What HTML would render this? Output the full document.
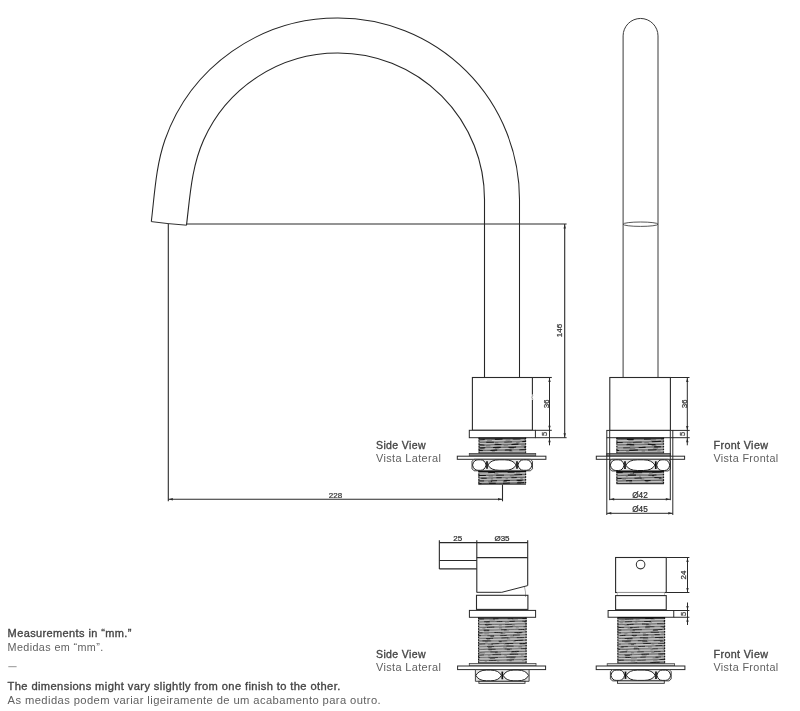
<!DOCTYPE html>
<html><head><meta charset="utf-8"><style>
html,body{margin:0;padding:0;background:#fff;width:800px;height:711px;overflow:hidden}
svg{display:block;font-family:"Liberation Sans",sans-serif;will-change:transform}
</style></head><body>
<svg width="800" height="711" viewBox="0 0 800 711">
<rect width="800" height="711" fill="#fff"/>
<path d="M151.3,221.6 C154.66,193.8 155.8,166.48 164.9,140 A183 183 0 0 1 338,18 A181.5 181.5 0 0 1 519.5,199.5 L519.5,377.5" fill="none" stroke="#262626" stroke-width="1.05"/>
<path d="M186.5,225.2 C190.1,195.41 191.45,167.42 203.6,140 A147 147 0 0 1 338,53 A146.5 146.5 0 0 1 484.5,199.5 L484.5,377.5" fill="none" stroke="#262626" stroke-width="1.1"/>
<path d="M151.3,221.6 L168,223.6 L186.5,225.2" fill="none" stroke="#333" stroke-width="1"/>
<line x1="186.5" y1="224" x2="566.6" y2="224" stroke="#2a2a2a" stroke-width="1.1"/>
<line x1="168.3" y1="224" x2="168.3" y2="501.3" stroke="#2a2a2a" stroke-width="1.1"/>
<line x1="168.3" y1="499.3" x2="502.5" y2="499.3" stroke="#2a2a2a" stroke-width="1.1"/>
<line x1="502.5" y1="484.5" x2="502.5" y2="501.3" stroke="#2a2a2a" stroke-width="1.1"/>
<line x1="564.7" y1="224" x2="564.7" y2="437.7" stroke="#2a2a2a" stroke-width="1.1"/>
<path d="M564.7,224.5 L563.5,228.5 L565.9000000000001,228.5 Z" fill="#2a2a2a"/>
<path d="M564.7,437.2 L563.5,433.2 L565.9000000000001,433.2 Z" fill="#2a2a2a"/>
<path d="M168.8,499.3 L172.8,498.1 L172.8,500.5 Z" fill="#2a2a2a"/>
<path d="M502,499.3 L498,498.1 L498,500.5 Z" fill="#2a2a2a"/>
<text x="335.5" y="498" font-size="8" font-weight="normal" fill="#444" text-anchor="middle" stroke="#2a2a2a" stroke-width="0.22" >228</text>
<text x="0" y="0" font-size="8" font-weight="normal" fill="#444" text-anchor="middle" stroke="#2a2a2a" stroke-width="0.22" transform="translate(562.3,330.6) rotate(-90)">146</text>
<rect x="472.4" y="377.5" width="60.00" height="52.80" stroke="#2a2a2a" stroke-width="1.1" fill="none"/>
<rect x="531.5" y="394.6" width="2" height="5.2" fill="#fff"/>
<path d="M532.9,395 L531.9,397.3 L532.9,399.6" fill="none" stroke="#8a8a8a" stroke-width="0.9"/>
<line x1="532.4" y1="377.5" x2="551.8" y2="377.5" stroke="#2a2a2a" stroke-width="1.1"/>
<line x1="549.5" y1="377.5" x2="549.5" y2="445.3" stroke="#2a2a2a" stroke-width="1.0"/>
<path d="M549.5,378 L548.3,382 L550.7,382 Z" fill="#2a2a2a"/>
<path d="M549.5,429.8 L548.3,425.8 L550.7,425.8 Z" fill="#2a2a2a"/>
<path d="M549.5,438.2 L548.3,442.2 L550.7,442.2 Z" fill="#2a2a2a"/>
<text x="0" y="0" font-size="7.5" font-weight="normal" fill="#444" text-anchor="middle" stroke="#2a2a2a" stroke-width="0.22" transform="translate(548.6,403.8) rotate(-90)">36</text>
<rect x="469.3" y="430.3" width="66.10" height="7.40" stroke="#2a2a2a" stroke-width="1.0" fill="#fff"/>
<line x1="535.4" y1="430.3" x2="551.8" y2="430.3" stroke="#2a2a2a" stroke-width="1.0"/>
<line x1="535.4" y1="437.7" x2="566.6" y2="437.7" stroke="#2a2a2a" stroke-width="1.0"/>
<text x="0" y="0" font-size="7.5" font-weight="normal" fill="#555" text-anchor="middle" stroke="#2a2a2a" stroke-width="0.22" transform="translate(547.3,434) rotate(-90)">5</text>
<rect x="478.7" y="437.7" width="47.30" height="15.80" fill="#959595"/>
<path d="M478.70,440.02 Q478.70,440.02 482.64,439.81 Q486.58,439.59 490.52,439.57 Q494.47,439.54 498.41,439.27 Q502.35,438.99 506.29,439.10 Q510.23,439.21 514.17,439.29 Q518.12,439.37 522.06,439.22 L526.00,439.07" fill="none" stroke="#505050" stroke-width="0.7"/>
<path d="M478.70,440.02 Q478.70,440.02 482.64,439.81 Q486.58,439.59 490.52,439.57 Q494.47,439.54 498.41,439.27 Q502.35,438.99 506.29,439.10 Q510.23,439.21 514.17,439.29 Q518.12,439.37 522.06,439.22 L526.00,439.07" fill="none" stroke="#151515" stroke-width="1.22" stroke-dasharray="7.8 10.1" stroke-dashoffset="1.8"/>
<line x1="478.7" y1="440.75" x2="526" y2="439.85" stroke="#e2e2e2" stroke-width="0.65" stroke-dasharray="13.7 4.8" stroke-dashoffset="5.3"/>
<path d="M478.70,442.37 Q478.70,442.37 482.64,442.31 Q486.58,442.25 490.52,442.37 Q494.47,442.49 498.41,442.41 Q502.35,442.33 506.29,442.28 Q510.23,442.23 514.17,442.17 Q518.12,442.10 522.06,441.75 L526.00,441.40" fill="none" stroke="#505050" stroke-width="0.7"/>
<path d="M478.70,442.37 Q478.70,442.37 482.64,442.31 Q486.58,442.25 490.52,442.37 Q494.47,442.49 498.41,442.41 Q502.35,442.33 506.29,442.28 Q510.23,442.23 514.17,442.17 Q518.12,442.10 522.06,441.75 L526.00,441.40" fill="none" stroke="#151515" stroke-width="1.22" stroke-dasharray="7.6 10.4" stroke-dashoffset="10.4"/>
<line x1="478.7" y1="443.50" x2="526" y2="442.60" stroke="#e2e2e2" stroke-width="0.65" stroke-dasharray="17.7 3.5" stroke-dashoffset="1.4"/>
<path d="M478.70,444.91 Q478.70,444.91 482.64,445.20 Q486.58,445.50 490.52,445.05 Q494.47,444.61 498.41,444.70 Q502.35,444.79 506.29,444.74 Q510.23,444.69 514.17,444.43 Q518.12,444.16 522.06,444.09 L526.00,444.02" fill="none" stroke="#505050" stroke-width="0.7"/>
<path d="M478.70,444.91 Q478.70,444.91 482.64,445.20 Q486.58,445.50 490.52,445.05 Q494.47,444.61 498.41,444.70 Q502.35,444.79 506.29,444.74 Q510.23,444.69 514.17,444.43 Q518.12,444.16 522.06,444.09 L526.00,444.02" fill="none" stroke="#151515" stroke-width="1.22" stroke-dasharray="7.0 10.0" stroke-dashoffset="1.2"/>
<line x1="478.7" y1="446.25" x2="526" y2="445.35" stroke="#e2e2e2" stroke-width="0.65" stroke-dasharray="13.1 4.6" stroke-dashoffset="5.9"/>
<path d="M478.70,448.00 Q478.70,448.00 482.64,447.84 Q486.58,447.69 490.52,447.59 Q494.47,447.50 498.41,447.45 Q502.35,447.40 506.29,447.41 Q510.23,447.43 514.17,447.27 Q518.12,447.12 522.06,447.14 L526.00,447.17" fill="none" stroke="#505050" stroke-width="0.7"/>
<path d="M478.70,448.00 Q478.70,448.00 482.64,447.84 Q486.58,447.69 490.52,447.59 Q494.47,447.50 498.41,447.45 Q502.35,447.40 506.29,447.41 Q510.23,447.43 514.17,447.27 Q518.12,447.12 522.06,447.14 L526.00,447.17" fill="none" stroke="#151515" stroke-width="1.22" stroke-dasharray="7.6 7.8" stroke-dashoffset="1.0"/>
<line x1="478.7" y1="449.00" x2="526" y2="448.10" stroke="#e2e2e2" stroke-width="0.65" stroke-dasharray="10.3 4.4" stroke-dashoffset="8.8"/>
<path d="M478.70,450.36 Q478.70,450.36 482.64,450.63 Q486.58,450.91 490.52,450.50 Q494.47,450.10 498.41,450.23 Q502.35,450.36 506.29,450.19 Q510.23,450.02 514.17,450.03 Q518.12,450.04 522.06,449.91 L526.00,449.78" fill="none" stroke="#505050" stroke-width="0.7"/>
<path d="M478.70,450.36 Q478.70,450.36 482.64,450.63 Q486.58,450.91 490.52,450.50 Q494.47,450.10 498.41,450.23 Q502.35,450.36 506.29,450.19 Q510.23,450.02 514.17,450.03 Q518.12,450.04 522.06,449.91 L526.00,449.78" fill="none" stroke="#151515" stroke-width="1.22" stroke-dasharray="6.8 7.6" stroke-dashoffset="2.7"/>
<line x1="478.7" y1="451.75" x2="526" y2="450.85" stroke="#e2e2e2" stroke-width="0.65" stroke-dasharray="14.5 3.1" stroke-dashoffset="1.4"/>
<line x1="479.09999999999997" y1="437.7" x2="479.09999999999997" y2="453.5" stroke="#1a1a1a" stroke-width="1.2" stroke-dasharray="1.4 1.35"/>
<line x1="525.6" y1="437.7" x2="525.6" y2="453.5" stroke="#1a1a1a" stroke-width="1.2" stroke-dasharray="1.4 1.35"/>
<line x1="478.7" y1="438.2" x2="526" y2="438.2" stroke="#111" stroke-width="1.3"/>
<line x1="478.7" y1="453.1" x2="526" y2="453.1" stroke="#222" stroke-width="1"/>
<rect x="469.3" y="453.5" width="66.40" height="2.70" stroke="#444" stroke-width="0.8" fill="#888"/>
<rect x="457.3" y="456.2" width="88.60" height="3.10" stroke="#2a2a2a" stroke-width="1.0" fill="#fff"/>
<path d="M472,461.3 L474.0,459.3 L530.5,459.3 L532.5,461.3 L532.5,468.8 L530.5,470.8 L474.0,470.8 L472,468.8 Z" fill="#e4e4e4" stroke="#333" stroke-width="0.9"/>
<path d="M472.50,465.05 Q473.86,459.80 477.94,459.80 L480.66,459.80 Q484.74,459.80 486.10,465.05 Q484.74,470.30 480.66,470.30 L477.94,470.30 Q473.86,470.30 472.50,465.05 Z" fill="#fff" stroke="#222" stroke-width="1.0"/>
<path d="M487.90,465.05 Q490.72,459.80 499.18,459.80 L504.82,459.80 Q513.28,459.80 516.10,465.05 Q513.28,470.30 504.82,470.30 L499.18,470.30 Q490.72,470.30 487.90,465.05 Z" fill="#fff" stroke="#222" stroke-width="1.0"/>
<path d="M517.90,465.05 Q519.31,459.80 523.54,459.80 L526.36,459.80 Q530.59,459.80 532.00,465.05 Q530.59,470.30 526.36,470.30 L523.54,470.30 Q519.31,470.30 517.90,465.05 Z" fill="#fff" stroke="#222" stroke-width="1.0"/>
<line x1="487" y1="461.3" x2="487" y2="468.8" stroke="#111" stroke-width="1.7"/>
<line x1="517" y1="461.3" x2="517" y2="468.8" stroke="#111" stroke-width="1.7"/>
<rect x="478.5" y="470.8" width="47.50" height="13.70" fill="#959595"/>
<path d="M478.50,473.24 Q478.50,473.24 482.46,473.15 Q486.42,473.06 490.38,472.69 Q494.33,472.33 498.29,472.33 Q502.25,472.34 506.21,472.43 Q510.17,472.52 514.12,472.34 Q518.08,472.16 522.04,471.90 L526.00,471.63" fill="none" stroke="#505050" stroke-width="0.7"/>
<path d="M478.50,473.24 Q478.50,473.24 482.46,473.15 Q486.42,473.06 490.38,472.69 Q494.33,472.33 498.29,472.33 Q502.25,472.34 506.21,472.43 Q510.17,472.52 514.12,472.34 Q518.08,472.16 522.04,471.90 L526.00,471.63" fill="none" stroke="#151515" stroke-width="1.22" stroke-dasharray="6.9 12.7" stroke-dashoffset="10.0"/>
<line x1="478.5" y1="473.85" x2="526" y2="472.95" stroke="#e2e2e2" stroke-width="0.65" stroke-dasharray="17.6 4.3" stroke-dashoffset="2.0"/>
<path d="M478.50,475.51 Q478.50,475.51 482.46,475.51 Q486.42,475.51 490.38,475.39 Q494.33,475.27 498.29,475.35 Q502.25,475.42 506.21,475.38 Q510.17,475.34 514.12,475.11 Q518.08,474.87 522.04,474.71 L526.00,474.55" fill="none" stroke="#505050" stroke-width="0.7"/>
<path d="M478.50,475.51 Q478.50,475.51 482.46,475.51 Q486.42,475.51 490.38,475.39 Q494.33,475.27 498.29,475.35 Q502.25,475.42 506.21,475.38 Q510.17,475.34 514.12,475.11 Q518.08,474.87 522.04,474.71 L526.00,474.55" fill="none" stroke="#151515" stroke-width="1.22" stroke-dasharray="7.8 10.3" stroke-dashoffset="0.4"/>
<line x1="478.5" y1="476.60" x2="526" y2="475.70" stroke="#e2e2e2" stroke-width="0.65" stroke-dasharray="16.9 4.3" stroke-dashoffset="6.8"/>
<path d="M478.50,478.12 Q478.50,478.12 482.46,478.33 Q486.42,478.54 490.38,478.19 Q494.33,477.84 498.29,477.87 Q502.25,477.90 506.21,478.02 Q510.17,478.14 514.12,477.80 Q518.08,477.45 522.04,477.62 L526.00,477.79" fill="none" stroke="#505050" stroke-width="0.7"/>
<path d="M478.50,478.12 Q478.50,478.12 482.46,478.33 Q486.42,478.54 490.38,478.19 Q494.33,477.84 498.29,477.87 Q502.25,477.90 506.21,478.02 Q510.17,478.14 514.12,477.80 Q518.08,477.45 522.04,477.62 L526.00,477.79" fill="none" stroke="#151515" stroke-width="1.22" stroke-dasharray="5.3 9.7" stroke-dashoffset="12.1"/>
<line x1="478.5" y1="479.35" x2="526" y2="478.45" stroke="#e2e2e2" stroke-width="0.65" stroke-dasharray="12.5 2.3" stroke-dashoffset="0.2"/>
<path d="M478.50,480.99 Q478.50,480.99 482.46,481.16 Q486.42,481.34 490.38,481.07 Q494.33,480.80 498.29,480.86 Q502.25,480.91 506.21,480.71 Q510.17,480.51 514.12,480.49 Q518.08,480.48 522.04,480.25 L526.00,480.02" fill="none" stroke="#505050" stroke-width="0.7"/>
<path d="M478.50,480.99 Q478.50,480.99 482.46,481.16 Q486.42,481.34 490.38,481.07 Q494.33,480.80 498.29,480.86 Q502.25,480.91 506.21,480.71 Q510.17,480.51 514.12,480.49 Q518.08,480.48 522.04,480.25 L526.00,480.02" fill="none" stroke="#151515" stroke-width="1.22" stroke-dasharray="6.2 6.7" stroke-dashoffset="0.6"/>
<line x1="478.5" y1="482.10" x2="526" y2="481.20" stroke="#e2e2e2" stroke-width="0.65" stroke-dasharray="10.8 4.0" stroke-dashoffset="1.2"/>
<path d="M478.50,483.78 Q478.50,483.78 482.46,483.60 Q486.42,483.42 490.38,483.40 Q494.33,483.38 498.29,483.47 Q502.25,483.56 506.21,483.38 Q510.17,483.19 514.12,483.08 Q518.08,482.96 522.04,482.81 L526.00,482.65" fill="none" stroke="#505050" stroke-width="0.7"/>
<path d="M478.50,483.78 Q478.50,483.78 482.46,483.60 Q486.42,483.42 490.38,483.40 Q494.33,483.38 498.29,483.47 Q502.25,483.56 506.21,483.38 Q510.17,483.19 514.12,483.08 Q518.08,482.96 522.04,482.81 L526.00,482.65" fill="none" stroke="#151515" stroke-width="1.22" stroke-dasharray="6.8 7.3" stroke-dashoffset="3.6"/>
<line x1="478.5" y1="484.85" x2="526" y2="483.95" stroke="#e2e2e2" stroke-width="0.65" stroke-dasharray="11.6 5.2" stroke-dashoffset="8.0"/>
<line x1="478.9" y1="470.8" x2="478.9" y2="484.5" stroke="#1a1a1a" stroke-width="1.2" stroke-dasharray="1.4 1.35"/>
<line x1="525.6" y1="470.8" x2="525.6" y2="484.5" stroke="#1a1a1a" stroke-width="1.2" stroke-dasharray="1.4 1.35"/>
<line x1="478.5" y1="471.3" x2="526" y2="471.3" stroke="#111" stroke-width="1.3"/>
<line x1="478.5" y1="484.1" x2="526" y2="484.1" stroke="#222" stroke-width="1"/>
<path d="M623.1,377.5 L623.1,35.9 A17.45 17.45 0 0 1 658,35.9 L658,377.5" fill="none" stroke="#3a3a3a" stroke-width="1"/>
<ellipse cx="640.55" cy="224.2" rx="17.45" ry="2.2" fill="none" stroke="#444" stroke-width="0.9"/>
<rect x="609.8" y="377.5" width="60.60" height="52.90" stroke="#2a2a2a" stroke-width="1.1" fill="none"/>
<line x1="670.4" y1="377.5" x2="689.5" y2="377.5" stroke="#2a2a2a" stroke-width="1.0"/>
<line x1="687.3" y1="377.5" x2="687.3" y2="445.3" stroke="#2a2a2a" stroke-width="1.0"/>
<path d="M687.3,378 L686.0999999999999,382 L688.5,382 Z" fill="#2a2a2a"/>
<path d="M687.3,429.9 L686.0999999999999,425.9 L688.5,425.9 Z" fill="#2a2a2a"/>
<path d="M687.3,438.2 L686.0999999999999,442.2 L688.5,442.2 Z" fill="#2a2a2a"/>
<text x="0" y="0" font-size="7.5" font-weight="normal" fill="#444" text-anchor="middle" stroke="#2a2a2a" stroke-width="0.22" transform="translate(687,403.8) rotate(-90)">36</text>
<rect x="606.8" y="430.4" width="66.00" height="7.30" stroke="#2a2a2a" stroke-width="1.0" fill="#fff"/>
<line x1="672.8" y1="430.4" x2="689.7" y2="430.4" stroke="#2a2a2a" stroke-width="1.0"/>
<line x1="672.8" y1="437.7" x2="689.7" y2="437.7" stroke="#2a2a2a" stroke-width="1.0"/>
<text x="0" y="0" font-size="7.5" font-weight="normal" fill="#555" text-anchor="middle" stroke="#2a2a2a" stroke-width="0.22" transform="translate(685.3,434) rotate(-90)">5</text>
<rect x="616.5" y="437.7" width="47.40" height="15.80" fill="#959595"/>
<path d="M616.50,439.69 Q616.50,439.69 620.45,439.47 Q624.40,439.26 628.35,439.28 Q632.30,439.29 636.25,439.34 Q640.20,439.38 644.15,439.44 Q648.10,439.50 652.05,439.31 Q656.00,439.12 659.95,439.07 L663.90,439.02" fill="none" stroke="#505050" stroke-width="0.7"/>
<path d="M616.50,439.69 Q616.50,439.69 620.45,439.47 Q624.40,439.26 628.35,439.28 Q632.30,439.29 636.25,439.34 Q640.20,439.38 644.15,439.44 Q648.10,439.50 652.05,439.31 Q656.00,439.12 659.95,439.07 L663.90,439.02" fill="none" stroke="#151515" stroke-width="1.22" stroke-dasharray="6.8 10.3" stroke-dashoffset="6.7"/>
<line x1="616.5" y1="440.75" x2="663.9" y2="439.85" stroke="#e2e2e2" stroke-width="0.65" stroke-dasharray="17.4 5.2" stroke-dashoffset="5.6"/>
<path d="M616.50,442.73 Q616.50,442.73 620.45,442.66 Q624.40,442.59 628.35,442.57 Q632.30,442.56 636.25,442.45 Q640.20,442.33 644.15,442.26 Q648.10,442.19 652.05,441.88 Q656.00,441.57 659.95,441.45 L663.90,441.32" fill="none" stroke="#505050" stroke-width="0.7"/>
<path d="M616.50,442.73 Q616.50,442.73 620.45,442.66 Q624.40,442.59 628.35,442.57 Q632.30,442.56 636.25,442.45 Q640.20,442.33 644.15,442.26 Q648.10,442.19 652.05,441.88 Q656.00,441.57 659.95,441.45 L663.90,441.32" fill="none" stroke="#151515" stroke-width="1.22" stroke-dasharray="9.1 10.0" stroke-dashoffset="2.9"/>
<line x1="616.5" y1="443.50" x2="663.9" y2="442.60" stroke="#e2e2e2" stroke-width="0.65" stroke-dasharray="12.7 4.6" stroke-dashoffset="2.2"/>
<path d="M616.50,445.00 Q616.50,445.00 620.45,444.94 Q624.40,444.87 628.35,444.72 Q632.30,444.57 636.25,444.87 Q640.20,445.17 644.15,444.74 Q648.10,444.31 652.05,444.53 Q656.00,444.75 659.95,444.50 L663.90,444.26" fill="none" stroke="#505050" stroke-width="0.7"/>
<path d="M616.50,445.00 Q616.50,445.00 620.45,444.94 Q624.40,444.87 628.35,444.72 Q632.30,444.57 636.25,444.87 Q640.20,445.17 644.15,444.74 Q648.10,444.31 652.05,444.53 Q656.00,444.75 659.95,444.50 L663.90,444.26" fill="none" stroke="#151515" stroke-width="1.22" stroke-dasharray="7.6 13.8" stroke-dashoffset="11.4"/>
<line x1="616.5" y1="446.25" x2="663.9" y2="445.35" stroke="#e2e2e2" stroke-width="0.65" stroke-dasharray="17.2 4.8" stroke-dashoffset="4.0"/>
<path d="M616.50,448.23 Q616.50,448.23 620.45,448.21 Q624.40,448.18 628.35,448.12 Q632.30,448.06 636.25,447.79 Q640.20,447.51 644.15,447.34 Q648.10,447.16 652.05,447.02 Q656.00,446.87 659.95,446.94 L663.90,447.01" fill="none" stroke="#505050" stroke-width="0.7"/>
<path d="M616.50,448.23 Q616.50,448.23 620.45,448.21 Q624.40,448.18 628.35,448.12 Q632.30,448.06 636.25,447.79 Q640.20,447.51 644.15,447.34 Q648.10,447.16 652.05,447.02 Q656.00,446.87 659.95,446.94 L663.90,447.01" fill="none" stroke="#151515" stroke-width="1.22" stroke-dasharray="6.9 8.6" stroke-dashoffset="8.8"/>
<line x1="616.5" y1="449.00" x2="663.9" y2="448.10" stroke="#e2e2e2" stroke-width="0.65" stroke-dasharray="17.6 5.2" stroke-dashoffset="4.0"/>
<path d="M616.50,450.47 Q616.50,450.47 620.45,450.53 Q624.40,450.60 628.35,450.48 Q632.30,450.36 636.25,450.14 Q640.20,449.92 644.15,450.13 Q648.10,450.35 652.05,450.05 Q656.00,449.74 659.95,449.73 L663.90,449.73" fill="none" stroke="#505050" stroke-width="0.7"/>
<path d="M616.50,450.47 Q616.50,450.47 620.45,450.53 Q624.40,450.60 628.35,450.48 Q632.30,450.36 636.25,450.14 Q640.20,449.92 644.15,450.13 Q648.10,450.35 652.05,450.05 Q656.00,449.74 659.95,449.73 L663.90,449.73" fill="none" stroke="#151515" stroke-width="1.22" stroke-dasharray="8.6 10.1" stroke-dashoffset="5.9"/>
<line x1="616.5" y1="451.75" x2="663.9" y2="450.85" stroke="#e2e2e2" stroke-width="0.65" stroke-dasharray="12.3 3.3" stroke-dashoffset="2.7"/>
<line x1="616.9" y1="437.7" x2="616.9" y2="453.5" stroke="#1a1a1a" stroke-width="1.2" stroke-dasharray="1.4 1.35"/>
<line x1="663.5" y1="437.7" x2="663.5" y2="453.5" stroke="#1a1a1a" stroke-width="1.2" stroke-dasharray="1.4 1.35"/>
<line x1="616.5" y1="438.2" x2="663.9" y2="438.2" stroke="#111" stroke-width="1.3"/>
<line x1="616.5" y1="453.1" x2="663.9" y2="453.1" stroke="#222" stroke-width="1"/>
<rect x="606.8" y="453.5" width="63.50" height="2.70" stroke="#444" stroke-width="0.8" fill="#888"/>
<rect x="596.3" y="456.2" width="88.30" height="3.10" stroke="#2a2a2a" stroke-width="1.0" fill="#fff"/>
<path d="M609.8,461.3 L611.8,459.3 L668.3,459.3 L670.3,461.3 L670.3,469.0 L668.3,471 L611.8,471 L609.8,469.0 Z" fill="#e4e4e4" stroke="#333" stroke-width="0.9"/>
<path d="M610.30,465.15 Q611.68,459.80 615.82,459.80 L618.58,459.80 Q622.72,459.80 624.10,465.15 Q622.72,470.50 618.58,470.50 L615.82,470.50 Q611.68,470.50 610.30,465.15 Z" fill="#fff" stroke="#222" stroke-width="1.0"/>
<path d="M625.90,465.15 Q628.80,459.80 637.50,459.80 L643.30,459.80 Q652.00,459.80 654.90,465.15 Q652.00,470.50 643.30,470.50 L637.50,470.50 Q628.80,470.50 625.90,465.15 Z" fill="#fff" stroke="#222" stroke-width="1.0"/>
<path d="M656.70,465.15 Q658.01,459.80 661.94,459.80 L664.56,459.80 Q668.49,459.80 669.80,465.15 Q668.49,470.50 664.56,470.50 L661.94,470.50 Q658.01,470.50 656.70,465.15 Z" fill="#fff" stroke="#222" stroke-width="1.0"/>
<line x1="625" y1="461.3" x2="625" y2="469.0" stroke="#111" stroke-width="1.7"/>
<line x1="655.8" y1="461.3" x2="655.8" y2="469.0" stroke="#111" stroke-width="1.7"/>
<rect x="616.5" y="471" width="47.40" height="13.10" fill="#959595"/>
<path d="M616.50,472.68 Q616.50,472.68 620.45,472.62 Q624.40,472.56 628.35,472.77 Q632.30,472.99 636.25,472.98 Q640.20,472.97 644.15,472.73 Q648.10,472.49 652.05,472.40 Q656.00,472.31 659.95,472.17 L663.90,472.03" fill="none" stroke="#505050" stroke-width="0.7"/>
<path d="M616.50,472.68 Q616.50,472.68 620.45,472.62 Q624.40,472.56 628.35,472.77 Q632.30,472.99 636.25,472.98 Q640.20,472.97 644.15,472.73 Q648.10,472.49 652.05,472.40 Q656.00,472.31 659.95,472.17 L663.90,472.03" fill="none" stroke="#151515" stroke-width="1.22" stroke-dasharray="9.3 10.2" stroke-dashoffset="3.1"/>
<line x1="616.5" y1="474.05" x2="663.9" y2="473.15" stroke="#e2e2e2" stroke-width="0.65" stroke-dasharray="15.2 3.7" stroke-dashoffset="1.6"/>
<path d="M616.50,475.87 Q616.50,475.87 620.45,475.56 Q624.40,475.25 628.35,475.19 Q632.30,475.13 636.25,475.09 Q640.20,475.05 644.15,475.28 Q648.10,475.52 652.05,475.41 Q656.00,475.31 659.95,474.93 L663.90,474.55" fill="none" stroke="#505050" stroke-width="0.7"/>
<path d="M616.50,475.87 Q616.50,475.87 620.45,475.56 Q624.40,475.25 628.35,475.19 Q632.30,475.13 636.25,475.09 Q640.20,475.05 644.15,475.28 Q648.10,475.52 652.05,475.41 Q656.00,475.31 659.95,474.93 L663.90,474.55" fill="none" stroke="#151515" stroke-width="1.22" stroke-dasharray="8.1 12.4" stroke-dashoffset="9.1"/>
<line x1="616.5" y1="476.80" x2="663.9" y2="475.90" stroke="#e2e2e2" stroke-width="0.65" stroke-dasharray="11.2 2.0" stroke-dashoffset="1.9"/>
<path d="M616.50,478.85 Q616.50,478.85 620.45,478.59 Q624.40,478.34 628.35,478.47 Q632.30,478.60 636.25,478.36 Q640.20,478.11 644.15,477.89 Q648.10,477.66 652.05,477.68 Q656.00,477.70 659.95,477.77 L663.90,477.84" fill="none" stroke="#505050" stroke-width="0.7"/>
<path d="M616.50,478.85 Q616.50,478.85 620.45,478.59 Q624.40,478.34 628.35,478.47 Q632.30,478.60 636.25,478.36 Q640.20,478.11 644.15,477.89 Q648.10,477.66 652.05,477.68 Q656.00,477.70 659.95,477.77 L663.90,477.84" fill="none" stroke="#151515" stroke-width="1.22" stroke-dasharray="7.0 12.9" stroke-dashoffset="1.9"/>
<line x1="616.5" y1="479.55" x2="663.9" y2="478.65" stroke="#e2e2e2" stroke-width="0.65" stroke-dasharray="14.6 3.7" stroke-dashoffset="8.8"/>
<path d="M616.50,481.31 Q616.50,481.31 620.45,481.06 Q624.40,480.80 628.35,480.75 Q632.30,480.70 636.25,480.71 Q640.20,480.73 644.15,480.69 Q648.10,480.64 652.05,480.55 Q656.00,480.46 659.95,480.38 L663.90,480.29" fill="none" stroke="#505050" stroke-width="0.7"/>
<path d="M616.50,481.31 Q616.50,481.31 620.45,481.06 Q624.40,480.80 628.35,480.75 Q632.30,480.70 636.25,480.71 Q640.20,480.73 644.15,480.69 Q648.10,480.64 652.05,480.55 Q656.00,480.46 659.95,480.38 L663.90,480.29" fill="none" stroke="#151515" stroke-width="1.22" stroke-dasharray="6.0 12.5" stroke-dashoffset="8.9"/>
<line x1="616.5" y1="482.30" x2="663.9" y2="481.40" stroke="#e2e2e2" stroke-width="0.65" stroke-dasharray="13.3 2.9" stroke-dashoffset="0.5"/>
<line x1="616.9" y1="471" x2="616.9" y2="484.1" stroke="#1a1a1a" stroke-width="1.2" stroke-dasharray="1.4 1.35"/>
<line x1="663.5" y1="471" x2="663.5" y2="484.1" stroke="#1a1a1a" stroke-width="1.2" stroke-dasharray="1.4 1.35"/>
<line x1="616.5" y1="471.5" x2="663.9" y2="471.5" stroke="#111" stroke-width="1.3"/>
<line x1="616.5" y1="483.70000000000005" x2="663.9" y2="483.70000000000005" stroke="#222" stroke-width="1"/>
<line x1="609.7" y1="430.4" x2="609.7" y2="500.2" stroke="#2a2a2a" stroke-width="1.0"/>
<line x1="670.3" y1="430.4" x2="670.3" y2="500.2" stroke="#2a2a2a" stroke-width="1.0"/>
<line x1="606.8" y1="437.7" x2="606.8" y2="515" stroke="#2a2a2a" stroke-width="1.0"/>
<line x1="672.8" y1="437.7" x2="672.8" y2="515" stroke="#2a2a2a" stroke-width="1.0"/>
<line x1="609.7" y1="499.3" x2="670.3" y2="499.3" stroke="#2a2a2a" stroke-width="1.0"/>
<line x1="606.8" y1="513.3" x2="672.8" y2="513.3" stroke="#2a2a2a" stroke-width="1.0"/>
<path d="M610.2,499.3 L614.2,498.1 L614.2,500.5 Z" fill="#2a2a2a"/>
<path d="M669.8,499.3 L665.8,498.1 L665.8,500.5 Z" fill="#2a2a2a"/>
<path d="M607.3,513.3 L611.3,512.0999999999999 L611.3,514.5 Z" fill="#2a2a2a"/>
<path d="M672.3,513.3 L668.3,512.0999999999999 L668.3,514.5 Z" fill="#2a2a2a"/>
<text x="640" y="497.5" font-size="8.2" font-weight="normal" fill="#333" text-anchor="middle" stroke="#2a2a2a" stroke-width="0.22" >Ø42</text>
<text x="640" y="512.2" font-size="8.2" font-weight="normal" fill="#333" text-anchor="middle" stroke="#2a2a2a" stroke-width="0.22" >Ø45</text>
<line x1="439.35" y1="540.3" x2="439.35" y2="568.9" stroke="#2a2a2a" stroke-width="1.1"/>
<line x1="439.35" y1="542.6" x2="527.7" y2="542.6" stroke="#2a2a2a" stroke-width="1.1"/>
<line x1="476.8" y1="540.3" x2="476.8" y2="592.5" stroke="#2a2a2a" stroke-width="1.1"/>
<line x1="527.7" y1="540.3" x2="527.7" y2="585.6" stroke="#2a2a2a" stroke-width="1.1"/>
<line x1="439.35" y1="560.5" x2="476.8" y2="560.5" stroke="#2a2a2a" stroke-width="1.1"/>
<line x1="439.35" y1="568.9" x2="476.8" y2="568.9" stroke="#2a2a2a" stroke-width="1.3"/>
<line x1="476.8" y1="557.6" x2="527.7" y2="557.6" stroke="#2a2a2a" stroke-width="1.1"/>
<path d="M527.7,585.6 L501.8,592.3 L476.8,592.3" fill="none" stroke="#2a2a2a" stroke-width="1"/>
<path d="M524.5,587 Q526,592 525.5,597" fill="none" stroke="#999" stroke-width="0.8"/>
<text x="457.8" y="541.2" font-size="8" font-weight="normal" fill="#333" text-anchor="middle" stroke="#2a2a2a" stroke-width="0.22" >25</text>
<text x="502" y="541.2" font-size="8" font-weight="normal" fill="#333" text-anchor="middle" stroke="#2a2a2a" stroke-width="0.22" >Ø35</text>
<rect x="476.5" y="595.3" width="51.40" height="14.10" stroke="#2a2a2a" stroke-width="1.1" fill="none"/>
<rect x="469.4" y="610.4" width="66.20" height="6.90" stroke="#2a2a2a" stroke-width="1.0" fill="#fff"/>
<rect x="478.2" y="617.3" width="48.30" height="46.10" fill="#a2a2a2"/>
<path d="M478.20,619.02 Q478.20,619.02 482.23,619.05 Q486.25,619.09 490.27,618.95 Q494.30,618.81 498.33,618.86 Q502.35,618.91 506.38,618.95 Q510.40,619.00 514.42,618.63 Q518.45,618.27 522.48,618.53 L526.50,618.80" fill="none" stroke="#505050" stroke-width="0.7"/>
<path d="M478.20,619.02 Q478.20,619.02 482.23,619.05 Q486.25,619.09 490.27,618.95 Q494.30,618.81 498.33,618.86 Q502.35,618.91 506.38,618.95 Q510.40,619.00 514.42,618.63 Q518.45,618.27 522.48,618.53 L526.50,618.80" fill="none" stroke="#151515" stroke-width="0.90" stroke-dasharray="5.4 9.2" stroke-dashoffset="14.3"/>
<line x1="478.2" y1="620.35" x2="526.5" y2="619.45" stroke="#e2e2e2" stroke-width="0.65" stroke-dasharray="17.4 5.6" stroke-dashoffset="6.2"/>
<path d="M478.20,622.39 Q478.20,622.39 482.23,622.04 Q486.25,621.68 490.27,621.67 Q494.30,621.66 498.33,621.67 Q502.35,621.67 506.38,621.54 Q510.40,621.41 514.42,621.36 Q518.45,621.31 522.48,621.30 L526.50,621.30" fill="none" stroke="#505050" stroke-width="0.7"/>
<path d="M478.20,622.39 Q478.20,622.39 482.23,622.04 Q486.25,621.68 490.27,621.67 Q494.30,621.66 498.33,621.67 Q502.35,621.67 506.38,621.54 Q510.40,621.41 514.42,621.36 Q518.45,621.31 522.48,621.30 L526.50,621.30" fill="none" stroke="#151515" stroke-width="0.90" stroke-dasharray="5.6 7.1" stroke-dashoffset="6.8"/>
<line x1="478.2" y1="623.10" x2="526.5" y2="622.20" stroke="#e2e2e2" stroke-width="0.65" stroke-dasharray="15.2 4.0" stroke-dashoffset="7.6"/>
<path d="M478.20,624.45 Q478.20,624.45 482.23,624.60 Q486.25,624.74 490.27,624.72 Q494.30,624.70 498.33,624.63 Q502.35,624.57 506.38,624.60 Q510.40,624.64 514.42,624.27 Q518.45,623.89 522.48,624.00 L526.50,624.10" fill="none" stroke="#505050" stroke-width="0.7"/>
<path d="M478.20,624.45 Q478.20,624.45 482.23,624.60 Q486.25,624.74 490.27,624.72 Q494.30,624.70 498.33,624.63 Q502.35,624.57 506.38,624.60 Q510.40,624.64 514.42,624.27 Q518.45,623.89 522.48,624.00 L526.50,624.10" fill="none" stroke="#151515" stroke-width="0.90" stroke-dasharray="6.7 13.6" stroke-dashoffset="13.6"/>
<line x1="478.2" y1="625.85" x2="526.5" y2="624.95" stroke="#e2e2e2" stroke-width="0.65" stroke-dasharray="10.4 2.9" stroke-dashoffset="3.1"/>
<path d="M478.20,627.92 Q478.20,627.92 482.23,627.71 Q486.25,627.50 490.27,627.28 Q494.30,627.06 498.33,627.17 Q502.35,627.29 506.38,627.04 Q510.40,626.78 514.42,626.73 Q518.45,626.68 522.48,626.84 L526.50,626.99" fill="none" stroke="#505050" stroke-width="0.7"/>
<path d="M478.20,627.92 Q478.20,627.92 482.23,627.71 Q486.25,627.50 490.27,627.28 Q494.30,627.06 498.33,627.17 Q502.35,627.29 506.38,627.04 Q510.40,626.78 514.42,626.73 Q518.45,626.68 522.48,626.84 L526.50,626.99" fill="none" stroke="#151515" stroke-width="0.90" stroke-dasharray="7.4 10.9" stroke-dashoffset="9.5"/>
<line x1="478.2" y1="628.60" x2="526.5" y2="627.70" stroke="#e2e2e2" stroke-width="0.65" stroke-dasharray="13.7 3.0" stroke-dashoffset="9.5"/>
<path d="M478.20,630.30 Q478.20,630.30 482.23,630.23 Q486.25,630.15 490.27,630.27 Q494.30,630.38 498.33,630.14 Q502.35,629.90 506.38,629.70 Q510.40,629.50 514.42,629.73 Q518.45,629.97 522.48,629.63 L526.50,629.29" fill="none" stroke="#505050" stroke-width="0.7"/>
<path d="M478.20,630.30 Q478.20,630.30 482.23,630.23 Q486.25,630.15 490.27,630.27 Q494.30,630.38 498.33,630.14 Q502.35,629.90 506.38,629.70 Q510.40,629.50 514.42,629.73 Q518.45,629.97 522.48,629.63 L526.50,629.29" fill="none" stroke="#151515" stroke-width="0.90" stroke-dasharray="5.8 11.6" stroke-dashoffset="12.0"/>
<line x1="478.2" y1="631.35" x2="526.5" y2="630.45" stroke="#e2e2e2" stroke-width="0.65" stroke-dasharray="14.7 5.1" stroke-dashoffset="8.9"/>
<path d="M478.20,633.05 Q478.20,633.05 482.23,633.00 Q486.25,632.95 490.27,632.71 Q494.30,632.46 498.33,632.74 Q502.35,633.02 506.38,632.74 Q510.40,632.46 514.42,632.59 Q518.45,632.72 522.48,632.36 L526.50,632.00" fill="none" stroke="#505050" stroke-width="0.7"/>
<path d="M478.20,633.05 Q478.20,633.05 482.23,633.00 Q486.25,632.95 490.27,632.71 Q494.30,632.46 498.33,632.74 Q502.35,633.02 506.38,632.74 Q510.40,632.46 514.42,632.59 Q518.45,632.72 522.48,632.36 L526.50,632.00" fill="none" stroke="#151515" stroke-width="0.90" stroke-dasharray="8.2 11.8" stroke-dashoffset="3.8"/>
<line x1="478.2" y1="634.10" x2="526.5" y2="633.20" stroke="#e2e2e2" stroke-width="0.65" stroke-dasharray="11.5 4.7" stroke-dashoffset="5.3"/>
<path d="M478.20,635.65 Q478.20,635.65 482.23,635.86 Q486.25,636.08 490.27,635.99 Q494.30,635.89 498.33,635.82 Q502.35,635.75 506.38,635.43 Q510.40,635.12 514.42,635.20 Q518.45,635.29 522.48,635.12 L526.50,634.95" fill="none" stroke="#505050" stroke-width="0.7"/>
<path d="M478.20,635.65 Q478.20,635.65 482.23,635.86 Q486.25,636.08 490.27,635.99 Q494.30,635.89 498.33,635.82 Q502.35,635.75 506.38,635.43 Q510.40,635.12 514.42,635.20 Q518.45,635.29 522.48,635.12 L526.50,634.95" fill="none" stroke="#151515" stroke-width="0.90" stroke-dasharray="6.7 6.2" stroke-dashoffset="3.7"/>
<line x1="478.2" y1="636.85" x2="526.5" y2="635.95" stroke="#e2e2e2" stroke-width="0.65" stroke-dasharray="15.9 4.0" stroke-dashoffset="3.8"/>
<path d="M478.20,638.92 Q478.20,638.92 482.23,638.82 Q486.25,638.72 490.27,638.49 Q494.30,638.26 498.33,638.19 Q502.35,638.12 506.38,637.89 Q510.40,637.65 514.42,637.75 Q518.45,637.85 522.48,637.66 L526.50,637.47" fill="none" stroke="#505050" stroke-width="0.7"/>
<path d="M478.20,638.92 Q478.20,638.92 482.23,638.82 Q486.25,638.72 490.27,638.49 Q494.30,638.26 498.33,638.19 Q502.35,638.12 506.38,637.89 Q510.40,637.65 514.42,637.75 Q518.45,637.85 522.48,637.66 L526.50,637.47" fill="none" stroke="#151515" stroke-width="0.90" stroke-dasharray="7.0 8.4" stroke-dashoffset="7.6"/>
<line x1="478.2" y1="639.60" x2="526.5" y2="638.70" stroke="#e2e2e2" stroke-width="0.65" stroke-dasharray="16.7 3.3" stroke-dashoffset="8.0"/>
<path d="M478.20,641.00 Q478.20,641.00 482.23,640.97 Q486.25,640.93 490.27,641.04 Q494.30,641.16 498.33,641.22 Q502.35,641.29 506.38,641.09 Q510.40,640.90 514.42,640.64 Q518.45,640.39 522.48,640.27 L526.50,640.15" fill="none" stroke="#505050" stroke-width="0.7"/>
<path d="M478.20,641.00 Q478.20,641.00 482.23,640.97 Q486.25,640.93 490.27,641.04 Q494.30,641.16 498.33,641.22 Q502.35,641.29 506.38,641.09 Q510.40,640.90 514.42,640.64 Q518.45,640.39 522.48,640.27 L526.50,640.15" fill="none" stroke="#151515" stroke-width="0.90" stroke-dasharray="8.8 7.2" stroke-dashoffset="11.8"/>
<line x1="478.2" y1="642.35" x2="526.5" y2="641.45" stroke="#e2e2e2" stroke-width="0.65" stroke-dasharray="11.6 2.4" stroke-dashoffset="4.6"/>
<path d="M478.20,644.21 Q478.20,644.21 482.23,644.08 Q486.25,643.95 490.27,643.99 Q494.30,644.02 498.33,643.73 Q502.35,643.44 506.38,643.49 Q510.40,643.54 514.42,643.56 Q518.45,643.57 522.48,643.54 L526.50,643.51" fill="none" stroke="#505050" stroke-width="0.7"/>
<path d="M478.20,644.21 Q478.20,644.21 482.23,644.08 Q486.25,643.95 490.27,643.99 Q494.30,644.02 498.33,643.73 Q502.35,643.44 506.38,643.49 Q510.40,643.54 514.42,643.56 Q518.45,643.57 522.48,643.54 L526.50,643.51" fill="none" stroke="#151515" stroke-width="0.90" stroke-dasharray="7.8 6.2" stroke-dashoffset="0.8"/>
<line x1="478.2" y1="645.10" x2="526.5" y2="644.20" stroke="#e2e2e2" stroke-width="0.65" stroke-dasharray="10.9 5.1" stroke-dashoffset="1.3"/>
<path d="M478.20,647.12 Q478.20,647.12 482.23,646.96 Q486.25,646.79 490.27,646.81 Q494.30,646.84 498.33,646.47 Q502.35,646.10 506.38,646.13 Q510.40,646.16 514.42,646.28 Q518.45,646.40 522.48,646.17 L526.50,645.95" fill="none" stroke="#505050" stroke-width="0.7"/>
<path d="M478.20,647.12 Q478.20,647.12 482.23,646.96 Q486.25,646.79 490.27,646.81 Q494.30,646.84 498.33,646.47 Q502.35,646.10 506.38,646.13 Q510.40,646.16 514.42,646.28 Q518.45,646.40 522.48,646.17 L526.50,645.95" fill="none" stroke="#151515" stroke-width="0.90" stroke-dasharray="7.1 12.3" stroke-dashoffset="10.5"/>
<line x1="478.2" y1="647.85" x2="526.5" y2="646.95" stroke="#e2e2e2" stroke-width="0.65" stroke-dasharray="11.5 3.7" stroke-dashoffset="1.7"/>
<path d="M478.20,649.98 Q478.20,649.98 482.23,649.56 Q486.25,649.14 490.27,649.26 Q494.30,649.39 498.33,649.19 Q502.35,649.00 506.38,649.14 Q510.40,649.28 514.42,649.05 Q518.45,648.82 522.48,648.81 L526.50,648.79" fill="none" stroke="#505050" stroke-width="0.7"/>
<path d="M478.20,649.98 Q478.20,649.98 482.23,649.56 Q486.25,649.14 490.27,649.26 Q494.30,649.39 498.33,649.19 Q502.35,649.00 506.38,649.14 Q510.40,649.28 514.42,649.05 Q518.45,648.82 522.48,648.81 L526.50,648.79" fill="none" stroke="#151515" stroke-width="0.90" stroke-dasharray="7.2 9.1" stroke-dashoffset="6.1"/>
<line x1="478.2" y1="650.60" x2="526.5" y2="649.70" stroke="#e2e2e2" stroke-width="0.65" stroke-dasharray="15.1 3.2" stroke-dashoffset="4.8"/>
<path d="M478.20,652.73 Q478.20,652.73 482.23,652.28 Q486.25,651.83 490.27,652.03 Q494.30,652.24 498.33,651.94 Q502.35,651.63 506.38,651.68 Q510.40,651.73 514.42,651.50 Q518.45,651.28 522.48,651.56 L526.50,651.84" fill="none" stroke="#505050" stroke-width="0.7"/>
<path d="M478.20,652.73 Q478.20,652.73 482.23,652.28 Q486.25,651.83 490.27,652.03 Q494.30,652.24 498.33,651.94 Q502.35,651.63 506.38,651.68 Q510.40,651.73 514.42,651.50 Q518.45,651.28 522.48,651.56 L526.50,651.84" fill="none" stroke="#151515" stroke-width="0.90" stroke-dasharray="7.3 13.9" stroke-dashoffset="9.0"/>
<line x1="478.2" y1="653.35" x2="526.5" y2="652.45" stroke="#e2e2e2" stroke-width="0.65" stroke-dasharray="10.1 6.0" stroke-dashoffset="9.4"/>
<path d="M478.20,655.44 Q478.20,655.44 482.23,655.19 Q486.25,654.95 490.27,654.86 Q494.30,654.77 498.33,654.83 Q502.35,654.90 506.38,654.55 Q510.40,654.19 514.42,654.23 Q518.45,654.26 522.48,654.14 L526.50,654.03" fill="none" stroke="#505050" stroke-width="0.7"/>
<path d="M478.20,655.44 Q478.20,655.44 482.23,655.19 Q486.25,654.95 490.27,654.86 Q494.30,654.77 498.33,654.83 Q502.35,654.90 506.38,654.55 Q510.40,654.19 514.42,654.23 Q518.45,654.26 522.48,654.14 L526.50,654.03" fill="none" stroke="#151515" stroke-width="0.90" stroke-dasharray="8.6 8.6" stroke-dashoffset="2.9"/>
<line x1="478.2" y1="656.10" x2="526.5" y2="655.20" stroke="#e2e2e2" stroke-width="0.65" stroke-dasharray="13.9 2.6" stroke-dashoffset="4.2"/>
<path d="M478.20,657.57 Q478.20,657.57 482.23,657.79 Q486.25,658.00 490.27,657.90 Q494.30,657.81 498.33,657.68 Q502.35,657.54 506.38,657.28 Q510.40,657.02 514.42,657.08 Q518.45,657.15 522.48,656.88 L526.50,656.62" fill="none" stroke="#505050" stroke-width="0.7"/>
<path d="M478.20,657.57 Q478.20,657.57 482.23,657.79 Q486.25,658.00 490.27,657.90 Q494.30,657.81 498.33,657.68 Q502.35,657.54 506.38,657.28 Q510.40,657.02 514.42,657.08 Q518.45,657.15 522.48,656.88 L526.50,656.62" fill="none" stroke="#151515" stroke-width="0.90" stroke-dasharray="9.4 8.4" stroke-dashoffset="7.5"/>
<line x1="478.2" y1="658.85" x2="526.5" y2="657.95" stroke="#e2e2e2" stroke-width="0.65" stroke-dasharray="14.6 5.3" stroke-dashoffset="3.0"/>
<path d="M478.20,660.34 Q478.20,660.34 482.23,660.53 Q486.25,660.71 490.27,660.58 Q494.30,660.46 498.33,660.44 Q502.35,660.42 506.38,660.22 Q510.40,660.03 514.42,659.90 Q518.45,659.77 522.48,659.80 L526.50,659.84" fill="none" stroke="#505050" stroke-width="0.7"/>
<path d="M478.20,660.34 Q478.20,660.34 482.23,660.53 Q486.25,660.71 490.27,660.58 Q494.30,660.46 498.33,660.44 Q502.35,660.42 506.38,660.22 Q510.40,660.03 514.42,659.90 Q518.45,659.77 522.48,659.80 L526.50,659.84" fill="none" stroke="#151515" stroke-width="0.90" stroke-dasharray="7.4 10.2" stroke-dashoffset="6.8"/>
<line x1="478.2" y1="661.60" x2="526.5" y2="660.70" stroke="#e2e2e2" stroke-width="0.65" stroke-dasharray="10.2 2.2" stroke-dashoffset="3.7"/>
<line x1="478.59999999999997" y1="617.3" x2="478.59999999999997" y2="663.4" stroke="#1a1a1a" stroke-width="1.2" stroke-dasharray="1.4 1.35"/>
<line x1="526.1" y1="617.3" x2="526.1" y2="663.4" stroke="#1a1a1a" stroke-width="1.2" stroke-dasharray="1.4 1.35"/>
<line x1="478.2" y1="617.8" x2="526.5" y2="617.8" stroke="#111" stroke-width="1.3"/>
<line x1="478.2" y1="663.0" x2="526.5" y2="663.0" stroke="#222" stroke-width="1"/>
<rect x="469.3" y="663.6" width="66.70" height="2.30" stroke="#444" stroke-width="0.8" fill="#ddd"/>
<rect x="457.6" y="666" width="88.00" height="3.60" stroke="#2a2a2a" stroke-width="1.0" fill="#fff"/>
<path d="M475.4,669.61 L475.40999999999997,669.6 L529.09,669.6 L529.1,669.61 L529.1,681.29 L529.09,681.3 L475.40999999999997,681.3 L475.4,681.29 Z" fill="#e4e4e4" stroke="#333" stroke-width="0.9"/>
<path d="M475.90,675.45 Q478.58,670.10 486.61,670.10 L490.69,670.10 Q498.72,670.10 501.40,675.45 Q498.72,680.80 490.69,680.80 L486.61,680.80 Q478.58,680.80 475.90,675.45 Z" fill="#fff" stroke="#222" stroke-width="1.0"/>
<path d="M503.20,675.45 Q505.87,670.10 513.87,670.10 L517.93,670.10 Q525.93,670.10 528.60,675.45 Q525.93,680.80 517.93,680.80 L513.87,680.80 Q505.87,680.80 503.20,675.45 Z" fill="#fff" stroke="#222" stroke-width="1.0"/>
<line x1="502.3" y1="671.6" x2="502.3" y2="679.3" stroke="#111" stroke-width="1.7"/>
<rect x="478.9" y="681.3" width="46.10" height="2.00" stroke="#2a2a2a" stroke-width="0.9" fill="#fff"/>
<rect x="615.6" y="557.5" width="50.65" height="35.00" stroke="#2a2a2a" stroke-width="1.1" fill="none"/>
<line x1="666.25" y1="557.5" x2="689.4" y2="557.5" stroke="#2a2a2a" stroke-width="1.0"/>
<line x1="666.25" y1="592.5" x2="689.4" y2="592.5" stroke="#2a2a2a" stroke-width="1.0"/>
<line x1="687.5" y1="557.5" x2="687.5" y2="592.5" stroke="#2a2a2a" stroke-width="1.0"/>
<path d="M687.5,558 L686.3,562 L688.7,562 Z" fill="#2a2a2a"/>
<path d="M687.5,592 L686.3,588 L688.7,588 Z" fill="#2a2a2a"/>
<circle cx="640.6" cy="564.6" r="4.3" fill="none" stroke="#333" stroke-width="1.05"/>
<text x="0" y="0" font-size="8" font-weight="normal" fill="#333" text-anchor="middle" stroke="#2a2a2a" stroke-width="0.22" transform="translate(686,575) rotate(-90)">24</text>
<rect x="617.2" y="592.5" width="47.40" height="3.10" stroke="#999" stroke-width="0.6" fill="#fff"/>
<rect x="615.6" y="595.6" width="50.65" height="14.15" stroke="#2a2a2a" stroke-width="1.1" fill="none"/>
<rect x="608.1" y="610.5" width="65.65" height="6.75" stroke="#2a2a2a" stroke-width="1.0" fill="#fff"/>
<line x1="673.75" y1="610.5" x2="689.4" y2="610.5" stroke="#2a2a2a" stroke-width="1.0"/>
<line x1="673.75" y1="617.25" x2="689.4" y2="617.25" stroke="#2a2a2a" stroke-width="1.0"/>
<line x1="687.5" y1="602.5" x2="687.5" y2="625" stroke="#2a2a2a" stroke-width="1.0"/>
<path d="M687.5,610 L686.3,606 L688.7,606 Z" fill="#2a2a2a"/>
<path d="M687.5,617.8 L686.3,621.8 L688.7,621.8 Z" fill="#2a2a2a"/>
<text x="0" y="0" font-size="7.5" font-weight="normal" fill="#555" text-anchor="middle" stroke="#2a2a2a" stroke-width="0.22" transform="translate(685.5,614) rotate(-90)">5</text>
<rect x="617.5" y="617.25" width="47.50" height="46.45" fill="#a2a2a2"/>
<path d="M617.50,619.46 Q617.50,619.46 621.46,619.41 Q625.42,619.36 629.38,619.32 Q633.33,619.28 637.29,618.92 Q641.25,618.56 645.21,618.60 Q649.17,618.63 653.12,618.41 Q657.08,618.18 661.04,618.32 L665.00,618.46" fill="none" stroke="#505050" stroke-width="0.7"/>
<path d="M617.50,619.46 Q617.50,619.46 621.46,619.41 Q625.42,619.36 629.38,619.32 Q633.33,619.28 637.29,618.92 Q641.25,618.56 645.21,618.60 Q649.17,618.63 653.12,618.41 Q657.08,618.18 661.04,618.32 L665.00,618.46" fill="none" stroke="#151515" stroke-width="0.90" stroke-dasharray="8.5 11.8" stroke-dashoffset="12.9"/>
<line x1="617.5" y1="620.30" x2="665" y2="619.40" stroke="#e2e2e2" stroke-width="0.65" stroke-dasharray="11.1 4.0" stroke-dashoffset="8.1"/>
<path d="M617.50,621.88 Q617.50,621.88 621.46,621.96 Q625.42,622.04 629.38,621.81 Q633.33,621.59 637.29,621.54 Q641.25,621.49 645.21,621.52 Q649.17,621.56 653.12,621.31 Q657.08,621.06 661.04,621.16 L665.00,621.27" fill="none" stroke="#505050" stroke-width="0.7"/>
<path d="M617.50,621.88 Q617.50,621.88 621.46,621.96 Q625.42,622.04 629.38,621.81 Q633.33,621.59 637.29,621.54 Q641.25,621.49 645.21,621.52 Q649.17,621.56 653.12,621.31 Q657.08,621.06 661.04,621.16 L665.00,621.27" fill="none" stroke="#151515" stroke-width="0.90" stroke-dasharray="6.8 12.4" stroke-dashoffset="11.7"/>
<line x1="617.5" y1="623.05" x2="665" y2="622.15" stroke="#e2e2e2" stroke-width="0.65" stroke-dasharray="12.0 2.6" stroke-dashoffset="9.3"/>
<path d="M617.50,624.60 Q617.50,624.60 621.46,624.64 Q625.42,624.68 629.38,624.47 Q633.33,624.26 637.29,624.12 Q641.25,623.98 645.21,624.12 Q649.17,624.26 653.12,624.02 Q657.08,623.78 661.04,623.90 L665.00,624.03" fill="none" stroke="#505050" stroke-width="0.7"/>
<path d="M617.50,624.60 Q617.50,624.60 621.46,624.64 Q625.42,624.68 629.38,624.47 Q633.33,624.26 637.29,624.12 Q641.25,623.98 645.21,624.12 Q649.17,624.26 653.12,624.02 Q657.08,623.78 661.04,623.90 L665.00,624.03" fill="none" stroke="#151515" stroke-width="0.90" stroke-dasharray="6.7 8.4" stroke-dashoffset="5.7"/>
<line x1="617.5" y1="625.80" x2="665" y2="624.90" stroke="#e2e2e2" stroke-width="0.65" stroke-dasharray="16.7 4.7" stroke-dashoffset="9.7"/>
<path d="M617.50,627.34 Q617.50,627.34 621.46,627.55 Q625.42,627.75 629.38,627.67 Q633.33,627.60 637.29,627.38 Q641.25,627.16 645.21,626.99 Q649.17,626.82 653.12,626.86 Q657.08,626.90 661.04,626.88 L665.00,626.86" fill="none" stroke="#505050" stroke-width="0.7"/>
<path d="M617.50,627.34 Q617.50,627.34 621.46,627.55 Q625.42,627.75 629.38,627.67 Q633.33,627.60 637.29,627.38 Q641.25,627.16 645.21,626.99 Q649.17,626.82 653.12,626.86 Q657.08,626.90 661.04,626.88 L665.00,626.86" fill="none" stroke="#151515" stroke-width="0.90" stroke-dasharray="9.1 6.2" stroke-dashoffset="2.8"/>
<line x1="617.5" y1="628.55" x2="665" y2="627.65" stroke="#e2e2e2" stroke-width="0.65" stroke-dasharray="12.8 4.7" stroke-dashoffset="2.7"/>
<path d="M617.50,630.20 Q617.50,630.20 621.46,630.15 Q625.42,630.09 629.38,629.98 Q633.33,629.87 637.29,629.85 Q641.25,629.83 645.21,629.94 Q649.17,630.06 653.12,629.99 Q657.08,629.91 661.04,629.57 L665.00,629.24" fill="none" stroke="#505050" stroke-width="0.7"/>
<path d="M617.50,630.20 Q617.50,630.20 621.46,630.15 Q625.42,630.09 629.38,629.98 Q633.33,629.87 637.29,629.85 Q641.25,629.83 645.21,629.94 Q649.17,630.06 653.12,629.99 Q657.08,629.91 661.04,629.57 L665.00,629.24" fill="none" stroke="#151515" stroke-width="0.90" stroke-dasharray="9.3 11.2" stroke-dashoffset="5.4"/>
<line x1="617.5" y1="631.30" x2="665" y2="630.40" stroke="#e2e2e2" stroke-width="0.65" stroke-dasharray="17.7 5.3" stroke-dashoffset="5.5"/>
<path d="M617.50,632.99 Q617.50,632.99 621.46,632.99 Q625.42,632.99 629.38,632.83 Q633.33,632.67 637.29,632.80 Q641.25,632.93 645.21,632.53 Q649.17,632.13 653.12,632.33 Q657.08,632.52 661.04,632.19 L665.00,631.87" fill="none" stroke="#505050" stroke-width="0.7"/>
<path d="M617.50,632.99 Q617.50,632.99 621.46,632.99 Q625.42,632.99 629.38,632.83 Q633.33,632.67 637.29,632.80 Q641.25,632.93 645.21,632.53 Q649.17,632.13 653.12,632.33 Q657.08,632.52 661.04,632.19 L665.00,631.87" fill="none" stroke="#151515" stroke-width="0.90" stroke-dasharray="8.3 10.6" stroke-dashoffset="4.6"/>
<line x1="617.5" y1="634.05" x2="665" y2="633.15" stroke="#e2e2e2" stroke-width="0.65" stroke-dasharray="15.3 3.1" stroke-dashoffset="8.4"/>
<path d="M617.50,635.82 Q617.50,635.82 621.46,635.54 Q625.42,635.26 629.38,635.35 Q633.33,635.44 637.29,635.33 Q641.25,635.22 645.21,635.08 Q649.17,634.95 653.12,634.84 Q657.08,634.74 661.04,634.85 L665.00,634.96" fill="none" stroke="#505050" stroke-width="0.7"/>
<path d="M617.50,635.82 Q617.50,635.82 621.46,635.54 Q625.42,635.26 629.38,635.35 Q633.33,635.44 637.29,635.33 Q641.25,635.22 645.21,635.08 Q649.17,634.95 653.12,634.84 Q657.08,634.74 661.04,634.85 L665.00,634.96" fill="none" stroke="#151515" stroke-width="0.90" stroke-dasharray="5.1 6.3" stroke-dashoffset="8.5"/>
<line x1="617.5" y1="636.80" x2="665" y2="635.90" stroke="#e2e2e2" stroke-width="0.65" stroke-dasharray="15.5 2.8" stroke-dashoffset="0.1"/>
<path d="M617.50,638.47 Q617.50,638.47 621.46,638.53 Q625.42,638.59 629.38,638.35 Q633.33,638.11 637.29,637.94 Q641.25,637.77 645.21,637.81 Q649.17,637.84 653.12,637.67 Q657.08,637.51 661.04,637.41 L665.00,637.32" fill="none" stroke="#505050" stroke-width="0.7"/>
<path d="M617.50,638.47 Q617.50,638.47 621.46,638.53 Q625.42,638.59 629.38,638.35 Q633.33,638.11 637.29,637.94 Q641.25,637.77 645.21,637.81 Q649.17,637.84 653.12,637.67 Q657.08,637.51 661.04,637.41 L665.00,637.32" fill="none" stroke="#151515" stroke-width="0.90" stroke-dasharray="7.9 7.3" stroke-dashoffset="8.0"/>
<line x1="617.5" y1="639.55" x2="665" y2="638.65" stroke="#e2e2e2" stroke-width="0.65" stroke-dasharray="10.4 5.5" stroke-dashoffset="0.9"/>
<path d="M617.50,641.25 Q617.50,641.25 621.46,641.21 Q625.42,641.16 629.38,641.01 Q633.33,640.86 637.29,640.85 Q641.25,640.85 645.21,640.97 Q649.17,641.09 653.12,640.98 Q657.08,640.87 661.04,640.83 L665.00,640.80" fill="none" stroke="#505050" stroke-width="0.7"/>
<path d="M617.50,641.25 Q617.50,641.25 621.46,641.21 Q625.42,641.16 629.38,641.01 Q633.33,640.86 637.29,640.85 Q641.25,640.85 645.21,640.97 Q649.17,641.09 653.12,640.98 Q657.08,640.87 661.04,640.83 L665.00,640.80" fill="none" stroke="#151515" stroke-width="0.90" stroke-dasharray="9.2 6.6" stroke-dashoffset="11.3"/>
<line x1="617.5" y1="642.30" x2="665" y2="641.40" stroke="#e2e2e2" stroke-width="0.65" stroke-dasharray="11.7 5.9" stroke-dashoffset="4.5"/>
<path d="M617.50,644.35 Q617.50,644.35 621.46,644.30 Q625.42,644.26 629.38,644.12 Q633.33,643.98 637.29,643.84 Q641.25,643.69 645.21,643.54 Q649.17,643.38 653.12,643.45 Q657.08,643.52 661.04,643.50 L665.00,643.48" fill="none" stroke="#505050" stroke-width="0.7"/>
<path d="M617.50,644.35 Q617.50,644.35 621.46,644.30 Q625.42,644.26 629.38,644.12 Q633.33,643.98 637.29,643.84 Q641.25,643.69 645.21,643.54 Q649.17,643.38 653.12,643.45 Q657.08,643.52 661.04,643.50 L665.00,643.48" fill="none" stroke="#151515" stroke-width="0.90" stroke-dasharray="7.6 7.4" stroke-dashoffset="4.2"/>
<line x1="617.5" y1="645.05" x2="665" y2="644.15" stroke="#e2e2e2" stroke-width="0.65" stroke-dasharray="17.5 2.8" stroke-dashoffset="3.8"/>
<path d="M617.50,646.69 Q617.50,646.69 621.46,646.78 Q625.42,646.87 629.38,646.73 Q633.33,646.60 637.29,646.54 Q641.25,646.48 645.21,646.40 Q649.17,646.32 653.12,646.06 Q657.08,645.80 661.04,645.73 L665.00,645.67" fill="none" stroke="#505050" stroke-width="0.7"/>
<path d="M617.50,646.69 Q617.50,646.69 621.46,646.78 Q625.42,646.87 629.38,646.73 Q633.33,646.60 637.29,646.54 Q641.25,646.48 645.21,646.40 Q649.17,646.32 653.12,646.06 Q657.08,645.80 661.04,645.73 L665.00,645.67" fill="none" stroke="#151515" stroke-width="0.90" stroke-dasharray="6.7 10.5" stroke-dashoffset="13.6"/>
<line x1="617.5" y1="647.80" x2="665" y2="646.90" stroke="#e2e2e2" stroke-width="0.65" stroke-dasharray="10.4 3.7" stroke-dashoffset="8.0"/>
<path d="M617.50,649.16 Q617.50,649.16 621.46,649.40 Q625.42,649.63 629.38,649.24 Q633.33,648.85 637.29,648.90 Q641.25,648.95 645.21,648.99 Q649.17,649.03 653.12,649.00 Q657.08,648.97 661.04,648.84 L665.00,648.72" fill="none" stroke="#505050" stroke-width="0.7"/>
<path d="M617.50,649.16 Q617.50,649.16 621.46,649.40 Q625.42,649.63 629.38,649.24 Q633.33,648.85 637.29,648.90 Q641.25,648.95 645.21,648.99 Q649.17,649.03 653.12,649.00 Q657.08,648.97 661.04,648.84 L665.00,648.72" fill="none" stroke="#151515" stroke-width="0.90" stroke-dasharray="5.4 13.4" stroke-dashoffset="2.6"/>
<line x1="617.5" y1="650.55" x2="665" y2="649.65" stroke="#e2e2e2" stroke-width="0.65" stroke-dasharray="10.3 2.1" stroke-dashoffset="2.1"/>
<path d="M617.50,652.43 Q617.50,652.43 621.46,652.11 Q625.42,651.79 629.38,652.05 Q633.33,652.31 637.29,652.13 Q641.25,651.95 645.21,651.90 Q649.17,651.86 653.12,651.89 Q657.08,651.91 661.04,651.76 L665.00,651.60" fill="none" stroke="#505050" stroke-width="0.7"/>
<path d="M617.50,652.43 Q617.50,652.43 621.46,652.11 Q625.42,651.79 629.38,652.05 Q633.33,652.31 637.29,652.13 Q641.25,651.95 645.21,651.90 Q649.17,651.86 653.12,651.89 Q657.08,651.91 661.04,651.76 L665.00,651.60" fill="none" stroke="#151515" stroke-width="0.90" stroke-dasharray="6.6 10.2" stroke-dashoffset="13.9"/>
<line x1="617.5" y1="653.30" x2="665" y2="652.40" stroke="#e2e2e2" stroke-width="0.65" stroke-dasharray="17.4 2.9" stroke-dashoffset="3.9"/>
<path d="M617.50,654.72 Q617.50,654.72 621.46,654.95 Q625.42,655.19 629.38,655.06 Q633.33,654.93 637.29,654.61 Q641.25,654.29 645.21,654.19 Q649.17,654.08 653.12,654.07 Q657.08,654.07 661.04,653.94 L665.00,653.80" fill="none" stroke="#505050" stroke-width="0.7"/>
<path d="M617.50,654.72 Q617.50,654.72 621.46,654.95 Q625.42,655.19 629.38,655.06 Q633.33,654.93 637.29,654.61 Q641.25,654.29 645.21,654.19 Q649.17,654.08 653.12,654.07 Q657.08,654.07 661.04,653.94 L665.00,653.80" fill="none" stroke="#151515" stroke-width="0.90" stroke-dasharray="7.6 9.4" stroke-dashoffset="10.1"/>
<line x1="617.5" y1="656.05" x2="665" y2="655.15" stroke="#e2e2e2" stroke-width="0.65" stroke-dasharray="11.7 4.9" stroke-dashoffset="4.0"/>
<path d="M617.50,657.46 Q617.50,657.46 621.46,657.41 Q625.42,657.37 629.38,657.56 Q633.33,657.76 637.29,657.50 Q641.25,657.25 645.21,657.15 Q649.17,657.05 653.12,657.15 Q657.08,657.24 661.04,657.07 L665.00,656.90" fill="none" stroke="#505050" stroke-width="0.7"/>
<path d="M617.50,657.46 Q617.50,657.46 621.46,657.41 Q625.42,657.37 629.38,657.56 Q633.33,657.76 637.29,657.50 Q641.25,657.25 645.21,657.15 Q649.17,657.05 653.12,657.15 Q657.08,657.24 661.04,657.07 L665.00,656.90" fill="none" stroke="#151515" stroke-width="0.90" stroke-dasharray="5.5 9.6" stroke-dashoffset="7.3"/>
<line x1="617.5" y1="658.80" x2="665" y2="657.90" stroke="#e2e2e2" stroke-width="0.65" stroke-dasharray="15.7 5.9" stroke-dashoffset="2.2"/>
<path d="M617.50,660.27 Q617.50,660.27 621.46,660.20 Q625.42,660.14 629.38,660.22 Q633.33,660.31 637.29,660.36 Q641.25,660.42 645.21,660.19 Q649.17,659.96 653.12,659.88 Q657.08,659.79 661.04,659.53 L665.00,659.27" fill="none" stroke="#505050" stroke-width="0.7"/>
<path d="M617.50,660.27 Q617.50,660.27 621.46,660.20 Q625.42,660.14 629.38,660.22 Q633.33,660.31 637.29,660.36 Q641.25,660.42 645.21,660.19 Q649.17,659.96 653.12,659.88 Q657.08,659.79 661.04,659.53 L665.00,659.27" fill="none" stroke="#151515" stroke-width="0.90" stroke-dasharray="8.6 13.6" stroke-dashoffset="2.4"/>
<line x1="617.5" y1="661.55" x2="665" y2="660.65" stroke="#e2e2e2" stroke-width="0.65" stroke-dasharray="17.9 4.4" stroke-dashoffset="4.6"/>
<path d="M617.50,663.39 Q617.50,663.39 621.46,663.38 Q625.42,663.36 629.38,663.36 Q633.33,663.36 637.29,662.95 Q641.25,662.54 645.21,662.60 Q649.17,662.65 653.12,662.49 Q657.08,662.33 661.04,662.18 L665.00,662.04" fill="none" stroke="#505050" stroke-width="0.7"/>
<path d="M617.50,663.39 Q617.50,663.39 621.46,663.38 Q625.42,663.36 629.38,663.36 Q633.33,663.36 637.29,662.95 Q641.25,662.54 645.21,662.60 Q649.17,662.65 653.12,662.49 Q657.08,662.33 661.04,662.18 L665.00,662.04" fill="none" stroke="#151515" stroke-width="0.90" stroke-dasharray="9.3 13.1" stroke-dashoffset="11.9"/>
<line x1="617.5" y1="664.30" x2="665" y2="663.40" stroke="#e2e2e2" stroke-width="0.65" stroke-dasharray="13.9 4.3" stroke-dashoffset="7.7"/>
<line x1="617.9" y1="617.25" x2="617.9" y2="663.7" stroke="#1a1a1a" stroke-width="1.2" stroke-dasharray="1.4 1.35"/>
<line x1="664.6" y1="617.25" x2="664.6" y2="663.7" stroke="#1a1a1a" stroke-width="1.2" stroke-dasharray="1.4 1.35"/>
<line x1="617.5" y1="617.75" x2="665" y2="617.75" stroke="#111" stroke-width="1.3"/>
<line x1="617.5" y1="663.3000000000001" x2="665" y2="663.3000000000001" stroke="#222" stroke-width="1"/>
<rect x="607.2" y="663.7" width="67.40" height="2.20" stroke="#444" stroke-width="0.8" fill="#ddd"/>
<rect x="596.2" y="666" width="88.70" height="3.60" stroke="#2a2a2a" stroke-width="1.0" fill="#fff"/>
<path d="M610.4,671.6 L612.4,669.6 L669.2,669.6 L671.2,671.6 L671.2,678.9 L669.2,680.9 L612.4,680.9 L610.4,678.9 Z" fill="#e4e4e4" stroke="#333" stroke-width="0.9"/>
<path d="M610.90,675.25 Q612.20,670.10 616.11,670.10 L619.39,670.10 Q623.30,670.10 624.60,675.25 Q623.30,680.40 619.39,680.40 L616.11,680.40 Q612.20,680.40 610.90,675.25 Z" fill="#fff" stroke="#222" stroke-width="1.0"/>
<path d="M626.40,675.25 Q629.13,670.10 637.31,670.10 L644.19,670.10 Q652.37,670.10 655.10,675.25 Q652.37,680.40 644.19,680.40 L637.31,680.40 Q629.13,680.40 626.40,675.25 Z" fill="#fff" stroke="#222" stroke-width="1.0"/>
<path d="M656.90,675.25 Q658.21,670.10 662.14,670.10 L665.46,670.10 Q669.39,670.10 670.70,675.25 Q669.39,680.40 665.46,680.40 L662.14,680.40 Q658.21,680.40 656.90,675.25 Z" fill="#fff" stroke="#222" stroke-width="1.0"/>
<line x1="625.5" y1="671.6" x2="625.5" y2="678.9" stroke="#111" stroke-width="1.7"/>
<line x1="656" y1="671.6" x2="656" y2="678.9" stroke="#111" stroke-width="1.7"/>
<rect x="617.5" y="680.9" width="46.80" height="2.40" stroke="#2a2a2a" stroke-width="0.9" fill="#fff"/>
<text x="0" y="0" transform="translate(376,449) scale(1.0139,1)" font-size="10.4" font-weight="normal" fill="#454545" text-anchor="start" stroke="#454545" stroke-width="0.32" letter-spacing="0.35">Side View</text>
<text x="0" y="0" transform="translate(376,462) scale(1.0522,1)" font-size="10.4" font-weight="normal" fill="#606060" text-anchor="start" letter-spacing="0.35">Vista Lateral</text>
<text x="0" y="0" transform="translate(713.5,448.6) scale(1.0354,1)" font-size="10.4" font-weight="normal" fill="#454545" text-anchor="start" stroke="#454545" stroke-width="0.32" letter-spacing="0.35">Front View</text>
<text x="0" y="0" transform="translate(713.5,462) scale(1.0376,1)" font-size="10.4" font-weight="normal" fill="#606060" text-anchor="start" letter-spacing="0.35">Vista Frontal</text>
<text x="0" y="0" transform="translate(376,657.5) scale(1.0139,1)" font-size="10.4" font-weight="normal" fill="#454545" text-anchor="start" stroke="#454545" stroke-width="0.32" letter-spacing="0.35">Side View</text>
<text x="0" y="0" transform="translate(376,671) scale(1.0522,1)" font-size="10.4" font-weight="normal" fill="#606060" text-anchor="start" letter-spacing="0.35">Vista Lateral</text>
<text x="0" y="0" transform="translate(713.5,658) scale(1.0354,1)" font-size="10.4" font-weight="normal" fill="#454545" text-anchor="start" stroke="#454545" stroke-width="0.32" letter-spacing="0.35">Front View</text>
<text x="0" y="0" transform="translate(713.5,671) scale(1.0376,1)" font-size="10.4" font-weight="normal" fill="#606060" text-anchor="start" letter-spacing="0.35">Vista Frontal</text>
<text x="0" y="0" transform="translate(7.6,637.3) scale(1.1014,1)" font-size="10" font-weight="normal" fill="#454545" text-anchor="start" stroke="#454545" stroke-width="0.32" letter-spacing="0.35">Measurements in “mm.”</text>
<text x="0" y="0" transform="translate(7.6,650.7) scale(1.0801,1)" font-size="10" font-weight="normal" fill="#606060" text-anchor="start" letter-spacing="0.35">Medidas em “mm”.</text>
<line x1="8.3" y1="666.7" x2="16.6" y2="666.7" stroke="#888" stroke-width="0.9"/>
<text x="0" y="0" transform="translate(7.6,689.8) scale(1.1135,1)" font-size="10" font-weight="normal" fill="#454545" text-anchor="start" stroke="#454545" stroke-width="0.32" letter-spacing="0.35">The dimensions might vary slightly from one finish to the other.</text>
<text x="0" y="0" transform="translate(7.6,703.9) scale(1.1225,1)" font-size="10" font-weight="normal" fill="#606060" text-anchor="start" letter-spacing="0.35">As medidas podem variar ligeiramente de um acabamento para outro.</text>
</svg>
</body></html>
